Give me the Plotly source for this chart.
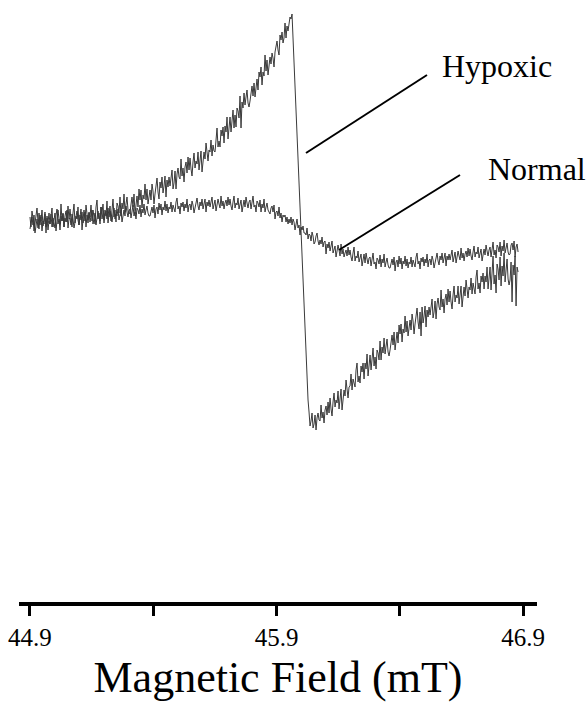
import numpy as np
import plotly.graph_objects as go

# EPR spectra (first-derivative signal, arbitrary units) swept from 44.9 to 46.88 mT
field_start = 44.9
field_end = 46.88

hypoxic = [
    3, -7, 9, 2, -11, -4, 6, 12, -2, -9, 5, -1, 10, -6, 1, 8, -13, 4, -3, 7,
    -4, 2, 12, -7, -1, 7, -11, 4, 10, 1, -4, 16, -1, 7, -7, 4, 9, -2, 14, 1,
    11, 0, -7, 7, 16, -3, 4, 1, 13, -5, 7, 11, -10, 4, 10, -1, 15, 6, -3, 8,
    3, 15, -1, 10, 4, -4, 13, 20, 1, 7, -4, 13, 7, 16, 0, 10, 4, 19, -3, 8,
    14, -1, 10, 21, 3, 10, -2, 17, 14, 7, 23, 4, 17, 11, 26, 8, 16, 23, 10, 6,
    8, 20, 23, 13, 26, 6, 20, 24, 13, 31, 20, 30, 12, 25, 21, 36, 20, 31, 16, 27,
    30, 20, 36, 29, 16, 26, 36, 42, 28, 21, 38, 32, 43, 27, 34, 44, 23, 40, 33, 43,
    34, 40, 50, 31, 37, 49, 31, 46, 52, 43, 41, 61, 44, 52, 38, 53, 58, 47, 63, 50,
    62, 51, 44, 58, 67, 52, 59, 56, 68, 50, 65, 69, 48, 62, 68, 61, 77, 68, 59, 70,
    68, 80, 64, 75, 69, 68, 85, 92, 73, 79, 73, 90, 84, 93, 77, 94, 88, 103, 81, 92,
    103, 88, 99, 110, 92, 105, 93, 112, 109, 102, 124, 92, 118, 112, 127, 115, 123, 130, 117, 113,
    119, 131, 134, 124, 137, 123, 137, 141, 130, 148, 143, 153, 135, 148, 144, 165, 149, 160, 145, 156,
    163, 156, 167, 162, 153, 168, 175, 179, 170, 165, 185, 180, 188, 177, 182, 197, 182, 194, 189, 196,
    203, 201, 206, 182, 157, 133, 108, 84, 60, 35, 11, -13, -38, -62, -87, -111, -136, -160, -180, -192,
    -206, -201, -193, -208, -204, -195, -210, -198, -193, -200, -201, -185, -198, -192, -203, -190, -186, -195, -182, -193,
    -178, -189, -196, -182, -173, -187, -180, -183, -171, -189, -173, -169, -190, -176, -170, -176, -160, -169, -178, -167,
    -166, -154, -170, -159, -165, -167, -150, -143, -162, -156, -163, -146, -152, -143, -159, -143, -149, -134, -156, -145,
    -135, -150, -139, -128, -146, -137, -149, -130, -133, -140, -121, -140, -127, -133, -118, -134, -126, -119, -132, -136,
    -130, -118, -115, -125, -112, -130, -116, -112, -123, -105, -114, -104, -122, -109, -113, -96, -112, -101, -116, -105,
    -100, -110, -94, -101, -114, -104, -94, -88, -102, -109, -92, -116, -87, -103, -96, -86, -107, -90, -97, -87,
    -95, -89, -79, -98, -92, -81, -99, -84, -78, -87, -90, -70, -87, -79, -93, -79, -74, -85, -69, -82,
    -71, -82, -89, -75, -66, -82, -75, -78, -66, -84, -70, -66, -87, -73, -67, -76, -60, -69, -78, -67,
    -70, -58, -74, -63, -69, -74, -57, -50, -69, -63, -73, -56, -62, -53, -69, -56, -62, -47, -69, -58,
    -47, -70, -53, -36, -64, -55, -73, -44, -49, -60, -37, -66, -46, -56, -33, -62, -50, -39, -59, -65,
    -60, -42, -82, -45, -55, -36, -86, -47, -52,
]

normal = [
    -9, 0, 3, -5, 5, -13, -2, 1, -8, 7, -5, 3, -11, -1, -4, 6, -7, 2, -10, -1,
    -4, 6, -7, 2, -3, -8, 5, 11, -4, 1, -10, 4, -1, 6, -7, 2, -2, 10, -8, 1,
    2, -5, 6, 1, -8, -2, 5, 9, 0, -5, 5, 0, 8, -3, 2, 8, -7, 5, 0, 7,
    -2, 3, 10, -4, 1, 7, -5, 5, 9, 3, -1, 13, 1, 7, -3, 5, 9, 1, 12, 3,
    9, 2, -2, 6, 12, 1, 6, 4, 11, 0, 8, 10, -2, 6, 10, 4, 14, 8, 3, 9,
    11, 2, 8, 15, 4, 8, 1, 12, 10, 6, 15, 3, 11, 7, 16, 5, 10, 14, 7, 4,
    4, 11, 13, 7, 15, 2, 11, 13, 6, 17, 10, 16, 5, 13, 10, 19, 9, 16, 7, 13,
    11, 18, 8, 15, 11, 8, 18, 22, 11, 14, 6, 17, 13, 18, 9, 16, 12, 21, 8, 15,
    16, 10, 19, 15, 7, 13, 19, 22, 14, 10, 18, 14, 21, 11, 16, 21, 8, 18, 14, 20,
    13, 17, 23, 11, 15, 20, 9, 18, 21, 16, 12, 24, 14, 19, 11, 17, 20, 14, 23, 15,
    21, 14, 10, 18, 24, 12, 17, 15, 22, 11, 18, 20, 8, 16, 20, 13, 23, 17, 12, 18,
    20, 11, 17, 24, 13, 15, 8, 19, 17, 13, 20, 8, 16, 12, 21, 8, 13, 17, 10, 7,
    6, 12, 14, 8, 15, 1, 8, 9, 4, 13, 2, 7, -2, 5, 3, 5, -2, 3, -4, 1,
    -3, 3, -5, 1, -2, -10, -2, 1, -8, -5, -15, -7, -10, -6, -13, -13, -15, -8, -19, -14,
    -15, -21, -12, -16, -24, -22, -16, -13, -21, -25, -20, -24, -17, -27, -22, -21, -34, -24, -28, -22,
    -31, -27, -21, -33, -29, -26, -37, -28, -25, -30, -36, -24, -34, -29, -37, -33, -30, -36, -27, -35,
    -30, -37, -41, -33, -27, -41, -36, -38, -31, -42, -36, -34, -46, -38, -34, -43, -33, -39, -44, -38,
    -37, -46, -40, -33, -44, -42, -49, -38, -40, -44, -35, -47, -39, -43, -34, -47, -42, -38, -45, -48,
    -48, -41, -39, -45, -37, -51, -42, -40, -47, -36, -44, -38, -49, -41, -44, -36, -46, -39, -48, -42,
    -44, -37, -47, -40, -44, -47, -37, -33, -44, -41, -49, -38, -42, -37, -46, -39, -43, -34, -47, -40,
    -39, -45, -36, -40, -48, -42, -36, -33, -41, -45, -36, -40, -33, -43, -38, -33, -46, -36, -40, -34,
    -40, -36, -30, -42, -38, -32, -43, -34, -31, -36, -40, -28, -38, -33, -41, -34, -31, -37, -28, -36,
    -29, -36, -40, -32, -26, -37, -32, -34, -27, -38, -31, -29, -41, -33, -29, -35, -25, -31, -36, -30,
    -27, -37, -30, -22, -35, -30, -38, -25, -27, -32, -22, -36, -26, -31, -20, -33, -28, -23, -32, -35,
    -34, -25, -23, -30, -21, -37, -27, -24, -32,
]

tick_values = [44.9, 45.4, 45.9, 46.4, 46.9]
tick_labels = ["44.9", "", "45.9", "", "46.9"]

field_h = np.linspace(field_start, field_end, len(hypoxic))
field_n = np.linspace(field_start, field_end, len(normal))

SERIF = "Liberation Serif"
TRACE_COLOR = "#3a3a3a"

fig = go.Figure()
fig.add_trace(go.Scatter(x=field_h, y=hypoxic, mode="lines", name="Hypoxic",
                         line=dict(color=TRACE_COLOR, width=1)))
fig.add_trace(go.Scatter(x=field_n, y=normal, mode="lines", name="Normal",
                         line=dict(color=TRACE_COLOR, width=1)))

# leader lines from the labels to each spectrum
fig.add_shape(type="line", xref="x", yref="y", x0=46.0197, y0=67, x1=46.5105, y1=145,
              line=dict(color="black", width=2))
fig.add_shape(type="line", xref="x", yref="y", x0=46.1535, y0=-30, x1=46.6444, y1=45,
              line=dict(color="black", width=2))

fig.add_annotation(x=46.563, y=154, xref="x", yref="y", text="Hypoxic", showarrow=False,
                   xanchor="left", yanchor="middle", font=dict(family=SERIF, size=32, color="black"))
fig.add_annotation(x=46.75, y=51, xref="x", yref="y", text="Normal", showarrow=False,
                   xanchor="left", yanchor="middle", font=dict(family=SERIF, size=32, color="black"))

fig.update_layout(
    width=587, height=702,
    margin=dict(l=19, r=50, t=0, b=100),
    paper_bgcolor="white", plot_bgcolor="white",
    showlegend=False,
    font=dict(family=SERIF, color="black"),
    xaxis=dict(
        range=[44.8554, 46.9568],
        showline=True, linecolor="black", linewidth=4,
        showgrid=False, zeroline=False,
        ticks="outside", ticklen=10, tickwidth=3, tickcolor="black",
        tickvals=tick_values, ticktext=tick_labels,
        tickfont=dict(family=SERIF, size=25, color="black"),
        title=dict(text="Magnetic Field (mT)", font=dict(family=SERIF, size=44, color="black"),
                   standoff=21),
    ),
    yaxis=dict(range=[-382, 220], visible=False, showgrid=False, zeroline=False),
)

fig.write_html("out.html")
